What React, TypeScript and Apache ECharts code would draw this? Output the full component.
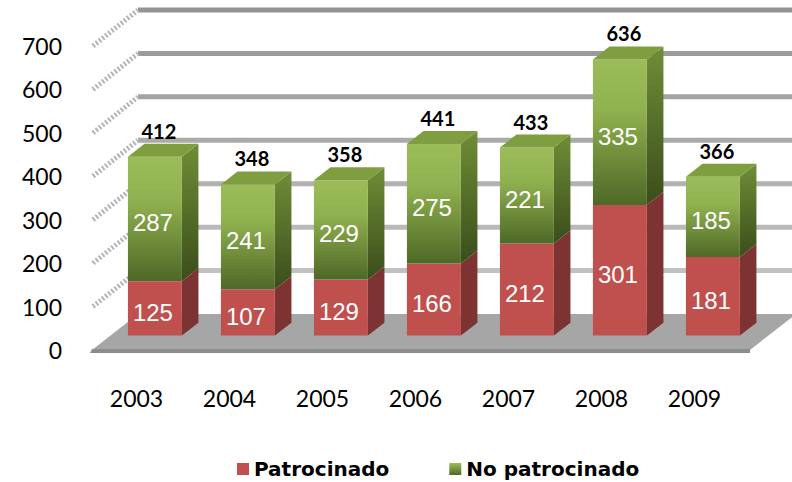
import React, { useEffect, useRef } from "react";
import * as echarts from "echarts";

const years = ["2003", "2004", "2005", "2006", "2007", "2008", "2009"];
const patrocinado = [125, 107, 129, 166, 212, 301, 181];
const noPatrocinado = [287, 241, 229, 275, 221, 335, 185];
const yTicks = [0, 100, 200, 300, 400, 500, 600, 700];

const DX = 46;
const DY = -36;
const BAR_D0 = 0.4;
const BAR_D1 = 0.76;

const RED = "#C0504D";
const RED_SIDE = "#7C3331";

function greenFront() {
  return new echarts.graphic.LinearGradient(0, 0, 0, 1, [
    { offset: 0, color: "#9CBC5A" },
    { offset: 0.35, color: "#90B14F" },
    { offset: 1, color: "#4E6827" },
  ]);
}
function greenSide() {
  return new echarts.graphic.LinearGradient(0, 0, 0, 1, [
    { offset: 0, color: "#6F8E37" },
    { offset: 1, color: "#3A4D1B" },
  ]);
}

function makeBarRender(kind: "red" | "green") {
  return (params: any, api: any) => {
    const idx = api.value(0);
    const lo = api.value(1);
    const hi = api.value(2);
    const pLo = api.coord([idx, lo]);
    const pHi = api.coord([idx, hi]);
    const bw = api.size([1, 0])[0] * 0.58;
    const ox = DX * BAR_D0;
    const oy = DY * BAR_D0;
    const sx = DX * (BAR_D1 - BAR_D0);
    const sy = DY * (BAR_D1 - BAR_D0);
    const cx = pLo[0] + ox;
    const x0 = cx - bw / 2;
    const x1 = x0 + bw;
    const yB = pLo[1] + oy;
    const yT = pHi[1] + oy;
    const children: any[] = [];
    children.push({
      type: "polygon",
      shape: { points: [[x1, yT], [x1 + sx, yT + sy], [x1 + sx, yB + sy], [x1, yB]] },
      style: { fill: kind === "red" ? RED_SIDE : greenSide() },
    });
    children.push({
      type: "rect",
      shape: { x: x0, y: yT, width: bw, height: yB - yT },
      style: { fill: kind === "red" ? RED : greenFront() },
    });
    if (kind === "green") {
      children.push({
        type: "polygon",
        shape: { points: [[x0, yT], [x0 + sx, yT + sy], [x1 + sx, yT + sy], [x1, yT]] },
        style: { fill: "#7E9E40" },
      });
      children.push({
        type: "text",
        x: cx + 4,
        y: yT - 26,
        style: {
          text: String(hi),
          fill: "#000",
          fontFamily: "Lato",
          fontWeight: "bold",
          fontSize: 20,
          align: "center",
          verticalAlign: "middle",
        },
      });
    }
    children.push({
      type: "text",
      x: cx - 2,
      y: (yB + yT) / 2 + 4,
      style: {
        text: String(hi - lo),
        fill: "#fff",
        fontFamily: "Liberation Sans",
        fontSize: 24,
        align: "center",
        verticalAlign: "middle",
      },
    });
    return { type: "group", children };
  };
}

export default function App() {
  const ref = useRef<HTMLDivElement>(null);
  useEffect(() => {
    document.body.style.margin = "0";
    const chart = echarts.init(ref.current!, null, { renderer: "svg" });
    const option: any = {
      animation: false,
      grid: { left: 90, top: 46, width: 651, height: 304 },
      legend: {
        left: 232,
        top: 454,
        itemWidth: 12,
        itemHeight: 12,
        itemGap: 60,
        textStyle: { fontFamily: "DejaVu Sans", fontWeight: "bold", fontSize: 20, color: "#000" },
        data: [
          { name: "Patrocinado", icon: "rect", itemStyle: { color: RED } },
          {
            name: "No patrocinado",
            icon: "rect",
            itemStyle: {
              color: new echarts.graphic.LinearGradient(0, 0, 0, 1, [
                { offset: 0, color: "#9CBC5A" },
                { offset: 1, color: "#4E6827" },
              ]),
            },
          },
        ],
      },
      xAxis: {
        type: "category",
        data: years,
        axisLine: { show: false },
        axisTick: { show: false },
        axisLabel: { fontFamily: "Lato", fontSize: 23, color: "#000", margin: 36 },
      },
      yAxis: {
        type: "value",
        min: 0,
        max: 700,
        interval: 100,
        axisLine: { show: false },
        axisTick: { show: false },
        splitLine: { show: false },
        axisLabel: { fontFamily: "Lato", fontSize: 23, color: "#000", margin: 28 },
      },
      series: [
        {
          type: "custom",
          name: "walls",
          silent: true,
          data: yTicks.map((v) => [0, v]),
          encode: { x: 0, y: 1 },
          renderItem: (params: any, api: any) => {
            const v = api.value(1);
            const cs = params.coordSys;
            const left = cs.x + 2;
            const right = cs.x + cs.width + 9;
            const y = api.coord([0, v])[1];
            if (v === 0) {
              return {
                type: "group",
                children: [
                  {
                    type: "polygon",
                    shape: { points: [[left, y], [right, y], [right + DX, y + DY], [left + DX, y + DY]] },
                    style: { fill: "#A6A6A6" },
                  },
                  {
                    type: "polygon",
                    shape: { points: [[left, y - 1], [right, y - 1], [right, y + 3], [left - 2, y + 3]] },
                    style: { fill: "#8C8C8C" },
                  },
                ],
              };
            }
            const g = Math.round(0xc8 - (v / 700) * 0x34);
            const col = `rgb(${g},${g},${g})`;
            return {
              type: "group",
              children: [
                {
                  type: "rect",
                  shape: { x: left + DX, y: y + DY - 2.5, width: right - left + 20, height: 5 },
                  style: { fill: col },
                },
                {
                  type: "line",
                  shape: { x1: left + 1, y1: y, x2: left + DX, y2: y + DY },
                  style: { stroke: "#B4B4B4", lineWidth: 5, lineDash: [2, 2] },
                },
              ],
            };
          },
          z: 1,
        },
        {
          type: "custom",
          name: "Patrocinado",
          itemStyle: { color: RED },
          data: years.map((_, i) => [i, 0, patrocinado[i]]),
          encode: { x: 0, y: [1, 2] },
          renderItem: makeBarRender("red"),
          z: 2,
        },
        {
          type: "custom",
          name: "No patrocinado",
          itemStyle: { color: "#9BBB59" },
          data: years.map((_, i) => [i, patrocinado[i], patrocinado[i] + noPatrocinado[i]]),
          encode: { x: 0, y: [1, 2] },
          renderItem: makeBarRender("green"),
          z: 3,
        },
      ],
    };
    chart.setOption(option);
    return () => chart.dispose();
  }, []);
  return <div ref={ref} style={{ width: 792, height: 482 }} />;
}
